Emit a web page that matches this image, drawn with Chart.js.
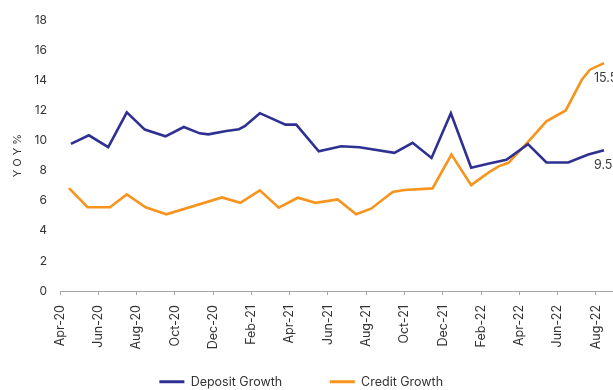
<!DOCTYPE html>
<html>
<head>
<meta charset="utf-8">
<script src="https://cdn.jsdelivr.net/npm/chart.js@4"></script>
<style>
html,body{margin:0;padding:0;background:#fff;}
#wrap{width:613px;height:390px;position:relative;}
</style>
</head>
<body>
<div id="wrap"><canvas id="c" width="613" height="390"></canvas></div>
<script>
// x positions are months since Apr-20 (0 = Apr-20, 2 = Jun-20, ...)
const tickLabels = ['Apr-20','Jun-20','Aug-20','Oct-20','Dec-20','Feb-21','Apr-21','Jun-21','Aug-21','Oct-21','Dec-21','Feb-22','Apr-22','Jun-22','Aug-22'];
const seriesNames = ['Deposit Growth', 'Credit Growth'];
const endLabels = ['9.5', '15.5'];

const depositMonths = [0.57,1.51,2.52,3.49,4.43,5.51,6.47,7.3,7.75,8.69,9.35,9.65,10.44,11.78,12.34,13.52,14.69,15.64,17.47,18.42,19.41,20.42,21.48,22.42,23.32,24.45,25.41,26.55,27.6,28.42];
const depositValues = [9.78,10.35,9.56,11.87,10.73,10.28,10.9,10.48,10.41,10.63,10.75,10.95,11.82,11.06,11.06,9.29,9.62,9.56,9.18,9.85,8.84,11.82,8.19,8.48,8.72,9.76,8.54,8.54,9.07,9.36];

const creditMonths = [0.47,1.44,2.61,3.49,4.47,5.56,8.46,9.42,10.44,11.43,12.42,13.35,14.51,15.47,16.25,17.38,17.99,19.46,20.45,21.48,22.42,22.94,23.43,24.45,25.41,26.42,27.26,27.68,28.42];
const creditValues = [6.84,5.57,5.57,6.42,5.57,5.1,6.22,5.86,6.69,5.54,6.2,5.86,6.09,5.1,5.47,6.58,6.71,6.82,9.07,7.04,7.9,8.3,8.52,9.91,11.28,12.0,14.04,14.71,15.15];

const toPoints = (xs, ys) => xs.map((x, i) => ({x: x, y: ys[i]}));

const FONT = 'Inter, "Open Sans", sans-serif';
const NAVY = '#2e3192';
const ORANGE = '#f7941d';
const TEXT = '#333333';

const endLabelPlugin = {
  id: 'endLabels',
  afterDatasetsDraw(chart) {
    const ctx = chart.ctx;
    ctx.save();
    ctx.font = '12.5px ' + FONT;
    ctx.fillStyle = '#3a3a3a';
    ctx.textAlign = 'left';
    ctx.textBaseline = 'middle';
    chart.data.datasets.forEach((ds, i) => {
      const meta = chart.getDatasetMeta(i);
      const pt = meta.data[meta.data.length - 1];
      ctx.fillText(endLabels[i], pt.x - 10, pt.y + 15);
    });
    ctx.restore();
  }
};

new Chart(document.getElementById('c'), {
  type: 'line',
  data: {
    datasets: [
      {label: seriesNames[0], data: toPoints(depositMonths, depositValues), borderColor: NAVY, backgroundColor: NAVY, borderWidth: 2.6, pointRadius: 0, tension: 0},
      {label: seriesNames[1], data: toPoints(creditMonths, creditValues), borderColor: ORANGE, backgroundColor: ORANGE, borderWidth: 2.6, pointRadius: 0, tension: 0}
    ]
  },
  options: {
    responsive: false,
    animation: false,
    events: [],
    layout: {padding: {left: 0, right: 0, top: 13, bottom: -8}},
    scales: {
      x: {
        type: 'linear',
        min: 0,
        max: 28.89,
        border: {display: true, color: '#a6a6a6', width: 1},
        grid: {display: true, drawOnChartArea: false, drawTicks: true, tickLength: 4, color: '#a6a6a6'},
        ticks: {
          stepSize: 2,
          includeBounds: false,
          autoSkip: false,
          minRotation: 90,
          maxRotation: 90,
          padding: 10,
          color: TEXT,
          font: {family: FONT, size: 12.5},
          callback: (v) => tickLabels[Math.round(v / 2)]
        },
        afterFit: (scale) => { scale.height = 82.5; scale.paddingRight = 0; scale.paddingLeft = 0; }
      },
      y: {
        min: 0,
        max: 18,
        border: {display: false},
        grid: {display: false, drawTicks: false},
        ticks: {stepSize: 2, padding: 13, color: TEXT, font: {family: FONT, size: 12}},
        title: {display: true, text: 'Y O Y %', color: TEXT, font: {family: FONT, size: 11}, padding: {top: 11, bottom: 0}},
        afterFit: (scale) => { scale.width = 60; }
      }
    },
    plugins: {
      tooltip: {enabled: false},
      legend: {
        position: 'bottom',
        labels: {
          boxWidth: 25,
          boxHeight: 3,
          padding: 2,
          color: TEXT,
          font: {family: FONT, size: 12.5},
          generateLabels: (chart) => chart.data.datasets.map((ds, i) => ({
            text: seriesNames[i] + (i === 0 ? '             ' : '   '),
            fillStyle: ds.borderColor,
            strokeStyle: ds.borderColor,
            lineWidth: 0,
            hidden: false,
            datasetIndex: i,
            fontColor: TEXT
          }))
        }
      }
    }
  },
  plugins: [endLabelPlugin]
});
</script>
</body>
</html>
